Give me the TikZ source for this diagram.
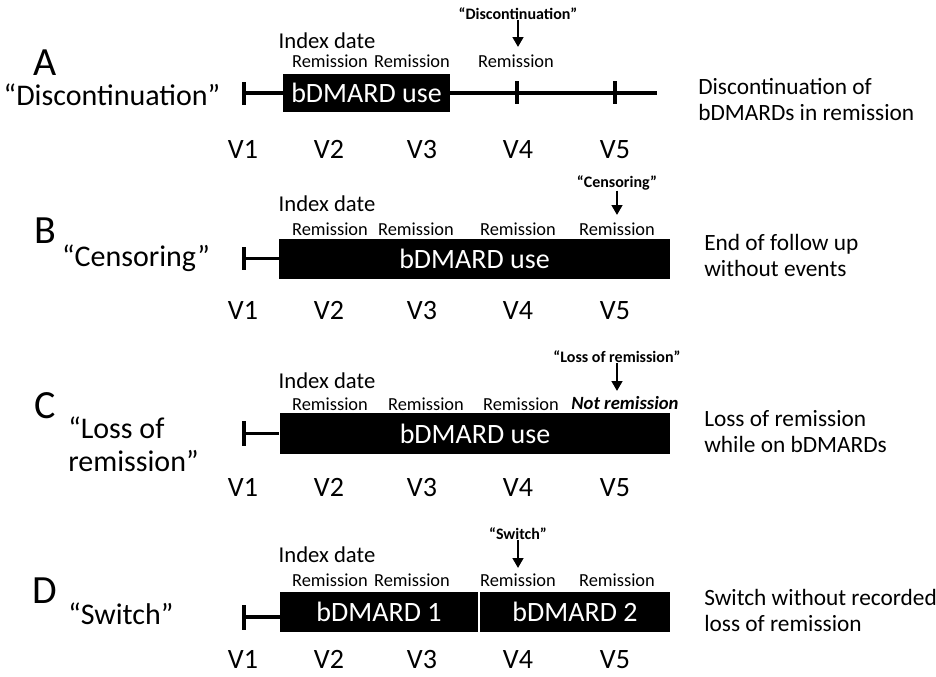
\documentclass[tikz,border=0pt]{standalone}
\usepackage{fontspec}
\setmainfont[Numbers=Lining]{Carlito}
\usetikzlibrary{arrows.meta}
\tikzset{
  tl/.style={line width=2.3pt},
  tick/.style={line width=2.3pt},
  usebar/.style={fill=black, draw=none, inner sep=0pt, text=white, font=\fontsize{21}{24}\selectfont},
  lett/.style={font=\fontsize{30}{32}\selectfont, inner sep=0pt},
  lab/.style={font=\fontsize{22.5}{25}\selectfont, align=left, inner sep=0pt},
  rem/.style={font=\fontsize{13.8}{16}\selectfont, inner sep=0pt},
  notrem/.style={font=\bfseries\itshape\fontsize{14}{16}\selectfont, inner sep=0pt},
  idx/.style={font=\fontsize{17}{19}\selectfont, inner sep=0pt},
  ev/.style={font=\bfseries\fontsize{12}{13}\selectfont, inner sep=0pt},
  vis/.style={font=\fontsize{21}{22}\selectfont, inner sep=0pt, anchor=base},
  desc/.style={font=\fontsize{17.5}{19}\selectfont, align=left, anchor=west, inner sep=0pt},
  evarrow/.style={-{Triangle[length=7.5pt,width=8pt]}, line width=1.8pt},
}
\begin{document}
\begin{tikzpicture}[x=0.75pt,y=-0.75pt]
\useasboundingbox (0,0) rectangle (936,676);

% ================= Panel A =================
\node[lett] (letA) at (45,63) {A};
\node[lab] (labA) at (112,95) {“Discontinuation”};
\node[usebar, minimum width=125pt, minimum height=28pt] (barA) at (366.5,93) {bDMARD use};
\coordinate (a1) at (244,93);
\coordinate (a4) at (517,93);
\coordinate (a5) at (615,93);
\coordinate (aend) at (657,93);
\draw[tick] (244,82) -- (244,105);
\draw[tick] (517,81) -- (517,104);
\draw[tick] (615,81) -- (615,104);
\draw[tl] (a1) -- (a1 -| barA.west);
\draw[tl] (a1 -| barA.east) -- (a4) -- (a5) -- (aend);
\node[idx] (idxA) at (327,41) {Index date};
\node[rem] (rA2) at (330,61) {Remission};
\node[rem] (rA3) at (412,61) {Remission};
\node[rem] (rA4) at (516,61) {Remission};
\node[ev] (evA) at (518,14) {“Discontinuation”};
\coordinate (evAend) at (518,47);
\draw[evarrow] (evA.south) -- (evAend);
\node[vis] (vA1) at (243,158) {V1};
\node[vis] (vA2) at (329,158) {V2};
\node[vis] (vA3) at (422,158) {V3};
\node[vis] (vA4) at (518,158) {V4};
\node[vis] (vA5) at (615,158) {V5};
\node[desc] (dA) at (698,99.5) {Discontinuation of\\bDMARDs in remission};

% ================= Panel B =================
\node[lett] (letB) at (45,231) {B};
\node[lab] (labB) at (136,258) {“Censoring”};
\node[usebar, minimum width=293pt, minimum height=30pt] (barB) at (474.5,258.5) {bDMARD use};
\coordinate (b1) at (244,258.5);
\draw[tick] (244,247) -- (244,270);
\draw[tl] (b1) -- (b1 -| barB.west);
\node[idx] (idxB) at (327,204) {Index date};
\node[rem] (rB2) at (330,229) {Remission};
\node[rem] (rB3) at (416,229) {Remission};
\node[rem] (rB4) at (518,229) {Remission};
\node[rem] (rB5) at (617,229) {Remission};
\node[ev] (evB) at (617,183) {“Censoring”};
\coordinate (evBend) at (617,215);
\draw[evarrow] (evB.south) -- (evBend);
\node[vis] (vB1) at (243,319) {V1};
\node[vis] (vB2) at (329,319) {V2};
\node[vis] (vB3) at (422,319) {V3};
\node[vis] (vB4) at (518,319) {V4};
\node[vis] (vB5) at (615,319) {V5};
\node[desc] (dB) at (704,255.5) {End of follow up\\without events};

% ================= Panel C =================
\node[lett] (letC) at (45,406) {C};
\node[lab, anchor=west] (labC) at (68,444) {“Loss of\\remission”};
\node[usebar, minimum width=293pt, minimum height=30.5pt] (barC) at (475,433.5) {bDMARD use};
\coordinate (c1) at (244,433.5);
\draw[tick] (244,421) -- (244,446);
\draw[tl] (c1) -- (c1 -| barC.west);
\node[idx] (idxC) at (327,381) {Index date};
\node[rem] (rC2) at (330,404) {Remission};
\node[rem] (rC3) at (426,404) {Remission};
\node[rem] (rC4) at (521,404) {Remission};
\node[notrem] (rC5) at (625,403) {Not remission};
\node[ev] (evC) at (617,357) {“Loss of remission”};
\coordinate (evCend) at (617,391);
\draw[evarrow] (evC.south) -- (evCend);
\node[vis] (vC1) at (243,496) {V1};
\node[vis] (vC2) at (329,496) {V2};
\node[vis] (vC3) at (422,496) {V3};
\node[vis] (vC4) at (518,496) {V4};
\node[vis] (vC5) at (615,496) {V5};
\node[desc] (dC) at (704,431.5) {Loss of remission\\while on bDMARDs};

% ================= Panel D =================
\node[lett] (letD) at (45,591) {D};
\node[lab, anchor=west] (labD) at (68,614) {“Switch”};
\node[usebar, minimum width=148.5pt, minimum height=30pt] (barD1) at (379,612) {bDMARD 1};
\node[usebar, minimum width=142.5pt, minimum height=30pt] (barD2) at (575,612) {bDMARD 2};
\coordinate (d1) at (244,617);
\draw[tick] (244,605) -- (244,630);
\draw[tl] (d1) -- (d1 -| barD1.west);
\node[idx] (idxD) at (327,555) {Index date};
\node[rem] (rD2) at (330,580) {Remission};
\node[rem] (rD3) at (412,580) {Remission};
\node[rem] (rD4) at (518,580) {Remission};
\node[rem] (rD5) at (617,580) {Remission};
\node[ev] (evD) at (518,534) {“Switch”};
\coordinate (evDend) at (518,568);
\draw[evarrow] (evD.south) -- (evDend);
\node[vis] (vD1) at (243,668) {V1};
\node[vis] (vD2) at (329,668) {V2};
\node[vis] (vD3) at (422,668) {V3};
\node[vis] (vD4) at (518,668) {V4};
\node[vis] (vD5) at (615,668) {V5};
\node[desc] (dD) at (704,610.5) {Switch without recorded\\loss of remission};
\end{tikzpicture}
\end{document}
